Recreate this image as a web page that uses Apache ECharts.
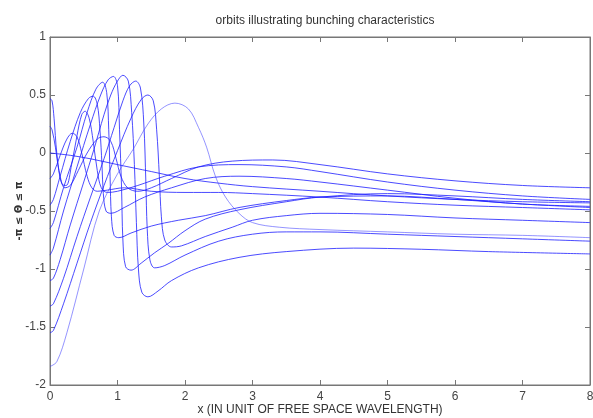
<!DOCTYPE html>
<html><head><meta charset="utf-8">
<script src="https://cdn.jsdelivr.net/npm/echarts@6/dist/echarts.min.js"></script>
<style>html,body{margin:0;padding:0;background:#fff}#c{width:593px;height:418px}</style>
</head><body><div id="c"></div>
<script>
// Tick labels
const xTicks = [0,1,2,3,4,5,6,7,8];
const yTicks = [-2,-1.5,-1,-0.5,0,0.5,1];

// Orbit curves: [x, phase] pairs
const orbit1 = [[0,0.47],[0.03,0.45],[0.06,0.3],[0.1,0.0],[0.15,-0.2],[0.22,-0.3],[0.3,-0.28],[0.42,-0.15],[0.55,0.0],[0.7,0.12],[0.8,0.14],[0.9,0.1],[0.98,-0.05],[1.05,-0.2],[1.15,-0.3],[1.3,-0.33],[1.5,-0.3],[1.8,-0.22],[2.2,-0.12],[2.7,-0.07],[3.3,-0.06],[4,-0.1],[5,-0.18],[6,-0.24],[7,-0.28],[8,-0.30]];
const orbit2 = [[0,0.23],[0.03,0.2],[0.08,0.05],[0.13,-0.15],[0.18,-0.27],[0.24,-0.28],[0.32,-0.1],[0.4,0.15],[0.47,0.33],[0.52,0.36],[0.58,0.3],[0.64,0.1],[0.7,-0.15],[0.76,-0.3],[0.85,-0.34],[1.0,-0.33],[1.3,-0.28],[1.7,-0.2],[2.2,-0.12],[2.8,-0.1],[3.5,-0.12],[4,-0.16],[5,-0.25],[6,-0.32],[7,-0.37],[8,-0.40]];
const orbit3 = [[0,0],[0.3,-0.02],[0.6,-0.05],[1,-0.1],[1.5,-0.16],[2,-0.22],[2.5,-0.26],[3,-0.29],[4,-0.33],[5,-0.37],[6,-0.4],[7,-0.42],[8,-0.43]];
const orbit4 = [[0,-0.22],[0.05,-0.18],[0.15,-0.02],[0.25,0.12],[0.33,0.17],[0.4,0.14],[0.47,0.0],[0.55,-0.2],[0.62,-0.3],[0.7,-0.33],[0.85,-0.32],[1.1,-0.3],[1.5,-0.33],[2,-0.34],[2.5,-0.34],[3,-0.35],[4,-0.38],[5,-0.42],[6,-0.45],[7,-0.47],[8,-0.49]];
const orbit5 = [[0,-0.45],[0.05,-0.4],[0.15,-0.2],[0.3,0.1],[0.45,0.35],[0.57,0.47],[0.64,0.49],[0.7,0.42],[0.74,0.2],[0.77,-0.1],[0.79,-0.35],[0.83,-0.5],[0.9,-0.52],[1.1,-0.47],[1.4,-0.38],[1.8,-0.3],[2.3,-0.22],[2.8,-0.2],[3.5,-0.22],[4,-0.25],[5,-0.32],[6,-0.39],[7,-0.44],[8,-0.46]];
const orbit6 = [[0,-0.65],[0.05,-0.6],[0.2,-0.3],[0.4,0.05],[0.55,0.35],[0.68,0.55],[0.78,0.61],[0.84,0.52],[0.87,0.2],[0.89,-0.2],[0.91,-0.55],[0.95,-0.71],[1.02,-0.73],[1.2,-0.69],[1.5,-0.63],[1.9,-0.58],[2.3,-0.54],[2.8,-0.47],[3.5,-0.41],[4,-0.38],[5,-0.37],[6,-0.4],[7,-0.44],[8,-0.47]];
const orbit7 = [[0,-0.88],[0.05,-0.82],[0.2,-0.5],[0.4,-0.12],[0.6,0.25],[0.75,0.5],[0.86,0.63],[0.94,0.66],[1.0,0.58],[1.03,0.2],[1.06,-0.3],[1.08,-0.75],[1.12,-0.98],[1.2,-1.01],[1.35,-0.95],[1.55,-0.86],[1.75,-0.78],[2.0,-0.67],[2.3,-0.57],[2.8,-0.49],[3.5,-0.42],[4,-0.38],[5,-0.35],[6,-0.37],[7,-0.4],[8,-0.42]];
const orbit8 = [[0,-1.1],[0.05,-1.08],[0.15,-0.92],[0.3,-0.62],[0.5,-0.25],[0.65,0.03],[0.8,0.33],[0.9,0.5],[1.0,0.62],[1.08,0.67],[1.16,0.62],[1.21,0.35],[1.25,-0.1],[1.28,-0.6],[1.31,-1.0],[1.36,-1.2],[1.45,-1.24],[1.6,-1.19],[1.8,-1.1],[2.2,-0.99],[2.8,-0.9],[3.5,-0.85],[4.5,-0.82],[5.5,-0.83],[6.5,-0.85],[8,-0.87]];
const orbit9 = [[0,-1.32],[0.05,-1.3],[0.2,-1.08],[0.4,-0.72],[0.6,-0.38],[0.8,-0.05],[0.95,0.22],[1.08,0.45],[1.18,0.58],[1.27,0.62],[1.34,0.56],[1.39,0.25],[1.42,-0.25],[1.44,-0.65],[1.48,-0.92],[1.55,-0.99],[1.7,-0.97],[2.0,-0.88],[2.5,-0.76],[3,-0.7],[3.5,-0.68],[4,-0.68],[5,-0.7],[6,-0.72],[7,-0.74],[8,-0.76]];
const orbit10 = [[0,-1.55],[0.05,-1.53],[0.2,-1.3],[0.4,-0.95],[0.6,-0.6],[0.8,-0.28],[1.0,0.02],[1.2,0.3],[1.35,0.46],[1.45,0.5],[1.53,0.45],[1.58,0.2],[1.62,-0.2],[1.65,-0.55],[1.7,-0.75],[1.8,-0.81],[1.95,-0.8],[2.3,-0.72],[2.7,-0.64],[3,-0.58],[3.5,-0.54],[4,-0.52],[5,-0.53],[6,-0.56],[7,-0.58],[8,-0.60]];
const orbit11 = [[0,-1.84],[0.1,-1.8],[0.25,-1.55],[0.5,-1.0],[0.73,-0.5],[1.0,-0.18],[1.23,0.03],[1.45,0.25],[1.65,0.38],[1.85,0.43],[2.05,0.38],[2.2,0.22],[2.32,0.05],[2.45,-0.2],[2.6,-0.38],[2.8,-0.52],[3.0,-0.6],[3.4,-0.64],[4,-0.66],[5,-0.68],[6,-0.7],[7,-0.71],[8,-0.73]];

const orbits = [orbit1,orbit2,orbit3,orbit4,orbit5,orbit6,orbit7,orbit8,orbit9,orbit10,orbit11];

const chart = echarts.init(document.getElementById('c'), null, {renderer:'canvas'});
const labelStyle = {color:'#444', fontFamily:'Liberation Sans, Arial, sans-serif', fontSize:12};
const axisCommon = {
  axisLine:{show:true, onZero:false, lineStyle:{color:'#777', width:1}},
  axisTick:{show:true, inside:true, length:5, lineStyle:{color:'#777'}},
  splitLine:{show:false}
};
chart.setOption({
  animation:false,
  title:{text:'orbits illustrating bunching characteristics', left:320, top:10, textAlign:'center',
    textStyle:{color:'#333', fontSize:12, fontWeight:'normal', fontFamily:'Liberation Sans, Arial, sans-serif'}},
  grid:{left:50, right:3, top:37, bottom:33, containLabel:false, outerBoundsMode:'none',
    show:true, borderColor:'#777', borderWidth:1},
  xAxis:[
    Object.assign({type:'value', min:0, max:8, interval:1, position:'bottom',
      axisLabel:Object.assign({margin:6}, labelStyle),
      name:'x (IN UNIT OF FREE SPACE WAVELENGTH)', nameLocation:'middle', nameGap:19, nameMoveOverlap:false,
      nameTextStyle:{color:'#333', fontSize:12, fontFamily:'Liberation Sans, Arial, sans-serif'}}, axisCommon),
    Object.assign({type:'value', min:0, max:8, interval:1, position:'top', axisLabel:{show:false}}, axisCommon)
  ],
  yAxis:[
    Object.assign({type:'value', min:-2, max:1, interval:0.5, position:'left',
      axisLabel:Object.assign({margin:4}, labelStyle),
      name:'-π ≤ Θ ≤ π', nameLocation:'middle', nameGap:26, nameMoveOverlap:false,
      nameTextStyle:{color:'#333', fontSize:10, fontWeight:'bold', fontFamily:'DejaVu Sans, sans-serif'}}, axisCommon),
    Object.assign({type:'value', min:-2, max:1, interval:0.5, position:'right', axisLabel:{show:false}}, axisCommon)
  ],
  series: orbits.map((d,i)=>({
    type:'line', data:d, smooth:0.35, symbol:'none', xAxisIndex:0, yAxisIndex:0,
    lineStyle:{color: i===10 ? 'rgba(60,60,255,0.55)' : 'rgba(30,30,255,0.8)', width:1}
  }))
});
</script></body></html>
